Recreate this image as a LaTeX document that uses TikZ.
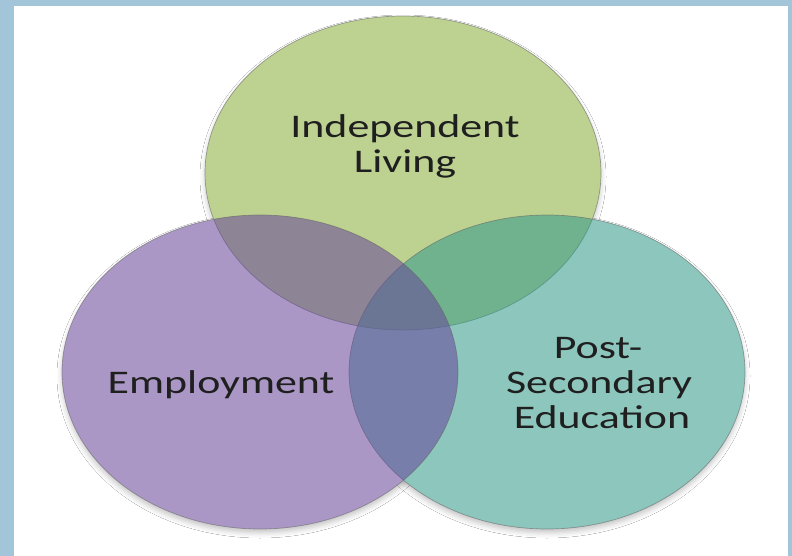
\documentclass[tikz,border=0pt]{standalone}
\usepackage{graphicx}
\usepackage{fontspec}
\setmainfont{Carlito}
\usetikzlibrary{shapes.geometric,shadows.blur}

\definecolor{framecol}{HTML}{A3C5DA}
\definecolor{livingfill}{RGB}{139,175,59}
\definecolor{employfill}{RGB}{104,71,154}
\definecolor{edufill}{RGB}{50,154,139}

% labels are set wide, as in the slide's stretched text
\newcommand{\widetext}[1]{\scalebox{1.33}[1]{#1}}

\tikzset{
  setbox/.style={ellipse, minimum width=396pt, minimum height=314pt,
    inner sep=0pt, fill opacity=0.56, draw=black!60, draw opacity=0.6,
    line width=0.7pt},
  shadowbox/.style={ellipse, minimum width=396pt, minimum height=314pt,
    inner sep=0pt,
    blur shadow={shadow xshift=0pt, shadow yshift=-4pt,
      shadow blur radius=5pt, shadow opacity=22}},
  setline/.style={anchor=base, inner sep=0pt, text height=23pt,
    text depth=7pt, text=black!88, font=\fontsize{33}{35}\selectfont}
}

\begin{document}
\begin{tikzpicture}[x=1pt, y=-1pt]
  % slide frame and white canvas
  \fill[framecol] (0,0) rectangle (792,556);
  \fill[white] (14,6) rectangle (788,556);
  \useasboundingbox (0,0) rectangle (792,556);

  % soft shadows under the three sets, then cleared inside the sets
  \node[shadowbox] (livingshadow) at (403,173) {};
  \node[shadowbox] (employshadow) at (260,372) {};
  \node[shadowbox] (edushadow) at (547,372) {};
  \fill[white] (403,173) ellipse [x radius=198pt, y radius=157pt];
  \fill[white] (260,372) ellipse [x radius=198pt, y radius=157pt];
  \fill[white] (547,372) ellipse [x radius=198pt, y radius=157pt];

  % the three overlapping sets
  \node[setbox, fill=livingfill] (living) at (403,173) {};
  \node[setbox, fill=edufill] (edu) at (547,372) {};
  \node[setbox, fill=employfill] (employ) at (260,372) {};

  % labels, one node per line, placed on their baselines
  \node[setline] (livingtop) at (405,138) {\widetext{Independent}};
  \node[setline] (livingbot) at (405,173) {\widetext{Living}};
  \node[setline] (employtext) at (221,393) {\widetext{Employment}};
  \node[setline] (edutop) at (598,358) {\widetext{Post-}};
  \node[setline] (edumid) at (599,393) {\widetext{Secondary}};
  \node[setline] (edubot) at (602,428) {\widetext{Education}};
\end{tikzpicture}
\end{document}
